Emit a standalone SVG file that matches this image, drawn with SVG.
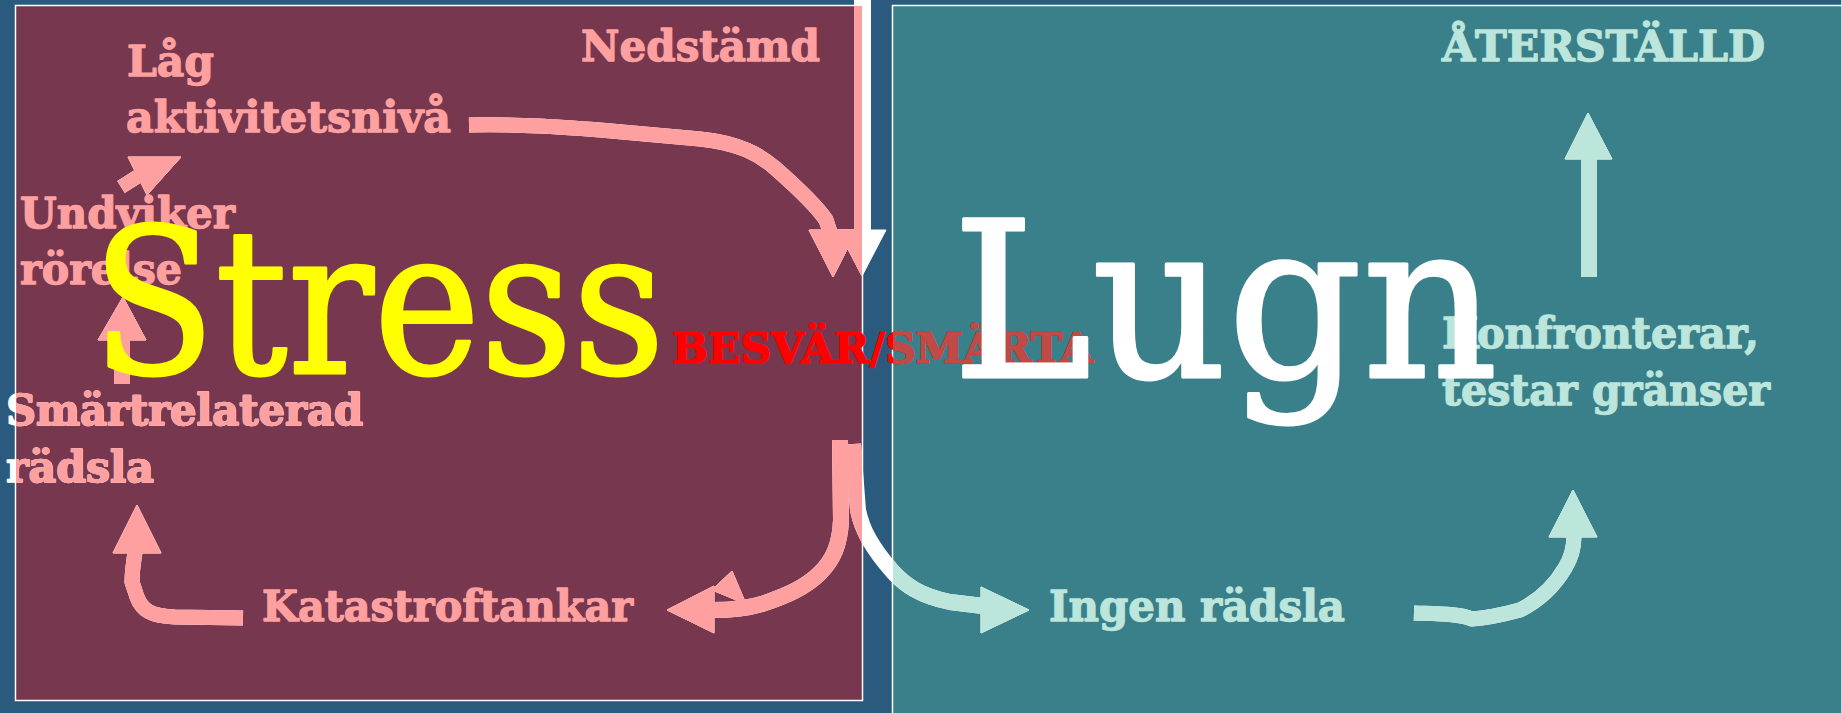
<svg xmlns="http://www.w3.org/2000/svg" xmlns:xlink="http://www.w3.org/1999/xlink" width="1841" height="713" viewBox="0 0 1841 713">
<style>
.lbl{font-family:"DejaVu Serif","Liberation Serif",serif;font-weight:bold;font-size:43px;stroke-width:1.3px;stroke-linejoin:round}
.big{font-family:"DejaVu Serif","Liberation Serif",serif;font-weight:normal;stroke-width:3px;stroke-linejoin:round}
.pink{fill:#FFA0A0;stroke:#FFA0A0}
.mint{fill:#BCE5DB;stroke:#BCE5DB}
.ln{fill:none;stroke-linejoin:round}
</style>
<defs>
<clipPath id="clipL"><rect x="16" y="6" width="846" height="694"/></clipPath>
<clipPath id="clipR"><rect x="893" y="6" width="948" height="707"/></clipPath>
<g id="arrowShapes">
<path class="ln" d="M862.5,0 L862.5,232" stroke-width="17"/>
<polygon points="838,230 886,230 862,276"/>
<path class="ln" d="M469,125 C520,124 560,127 600,130 L700,139 C740,143 760,155 775,168 C800,190 818,208 826,220 L830,232" stroke-width="15"/>
<polygon points="809,230 857,230 833,277"/>
<path class="ln" d="M840,440 L841,520 C840,545 833,560 820,573 C805,588 785,596 765,603 C750,608 735,610 712,610" stroke-width="16"/>
<polygon points="667,610 714,586 714,633"/>
<polygon points="712,590 732,571 746,604"/>
<path class="ln" d="M853,444 L858,510 C862,530 872,548 893,572 C905,585 920,596 950,602 L983,606" stroke-width="16"/>
<polygon points="1029,610 981,587 981,633"/>
<path class="ln" d="M243,618 L175,617 C150,616 142,610 137,597 L132,582 C132,570 134,560 135,552" stroke-width="15"/>
<polygon points="113,553 161,553 137,505"/>
<path class="ln" d="M121,187 L140,175" stroke-width="14"/>
<polygon points="128,157 181,157 147,195"/>
<path class="ln" d="M122,384 L122,338" stroke-width="16"/>
<polygon points="98,340 146,340 123,297"/>
<path class="ln" d="M1414,613 C1440,614 1460,614 1472,619 C1490,618 1505,614 1520,610 C1540,600 1555,585 1565,568 C1573,555 1574,545 1574,536" stroke-width="15"/>
<polygon points="1549,537 1597,537 1573,490"/>
<path class="ln" d="M1589,277 L1589,157" stroke-width="16"/>
<polygon points="1565,159 1612,159 1588,113"/>
</g>
<g id="smartTxt">
<text x="6" y="425" textLength="357" lengthAdjust="spacingAndGlyphs">Smärtrelaterad</text>
<text x="6" y="482" textLength="148" lengthAdjust="spacingAndGlyphs">rädsla</text>
</g>
<text id="besvarTxt" x="672" y="363" textLength="421" lengthAdjust="spacingAndGlyphs">BESVÄR/SMÄRTA</text>
</defs>
<rect x="0" y="0" width="1841" height="713" fill="#2A5A7E"/>
<g id="panel-stress">
<rect x="15.5" y="5.5" width="847" height="695" fill="#77374F" stroke="#FFFFFF" stroke-width="1.5"/>
</g>
<g id="panel-lugn">
<rect x="892.5" y="5.5" width="960" height="720" fill="#3A808B" stroke="#FFFFFF" stroke-width="1.5"/>
</g>
<g id="node-lag" class="lbl pink">
<text x="127" y="76" textLength="87" lengthAdjust="spacingAndGlyphs">Låg</text>
<text x="126" y="132" textLength="325" lengthAdjust="spacingAndGlyphs">aktivitetsnivå</text>
</g>
<g id="node-nedstamd" class="lbl pink">
<text x="581" y="61" textLength="239" lengthAdjust="spacingAndGlyphs">Nedstämd</text>
</g>
<g id="node-undviker" class="lbl pink">
<text x="20" y="228" textLength="215" lengthAdjust="spacingAndGlyphs">Undviker</text>
<text x="20" y="284" textLength="162" lengthAdjust="spacingAndGlyphs">rörelse</text>
</g>
<g id="node-smartrelaterad" class="lbl">
<use xlink:href="#smartTxt" fill="#FFFFFF" stroke="#FFFFFF"/>
<use xlink:href="#smartTxt" fill="#FFA0A0" stroke="#FFA0A0" clip-path="url(#clipL)"/>
</g>
<g id="node-katastrof" class="lbl pink">
<text x="262" y="621" textLength="371" lengthAdjust="spacingAndGlyphs">Katastroftankar</text>
</g>
<g id="node-aterstalld" class="lbl mint">
<text x="1442" y="61" textLength="323" lengthAdjust="spacingAndGlyphs">ÅTERSTÄLLD</text>
</g>
<g id="node-konfronterar" class="lbl mint">
<text x="1442" y="348" textLength="317" lengthAdjust="spacingAndGlyphs">Konfronterar,</text>
<text x="1442" y="405" textLength="328" lengthAdjust="spacingAndGlyphs">testar gränser</text>
</g>
<g id="node-ingen" class="lbl mint">
<text x="1049" y="621" textLength="296" lengthAdjust="spacingAndGlyphs">Ingen rädsla</text>
</g>
<g id="connectors">
<use xlink:href="#arrowShapes" fill="#FFFFFF" stroke="#FFFFFF"/>
<use xlink:href="#arrowShapes" fill="#FFA0A0" stroke="#FFA0A0" clip-path="url(#clipL)"/>
<use xlink:href="#arrowShapes" fill="#BCE5DB" stroke="#BCE5DB" clip-path="url(#clipR)"/>
</g>
<g id="node-besvar" class="lbl">
<use xlink:href="#besvarTxt" fill="#FF0000" stroke="#FF0000"/>
<use xlink:href="#besvarTxt" fill="#C04A45" stroke="#C04A45" clip-path="url(#clipR)"/>
</g>
<g id="title-stress">
<text class="big" x="92" y="373" font-size="203" fill="#FFFF00" stroke="#FFFF00" textLength="573" lengthAdjust="spacingAndGlyphs">Stress</text>
</g>
<g id="title-lugn">
<text class="big" x="952" y="377" font-size="218" fill="#FFFFFF" stroke="#FFFFFF" textLength="546" lengthAdjust="spacingAndGlyphs">Lugn</text>
</g>
</svg>
